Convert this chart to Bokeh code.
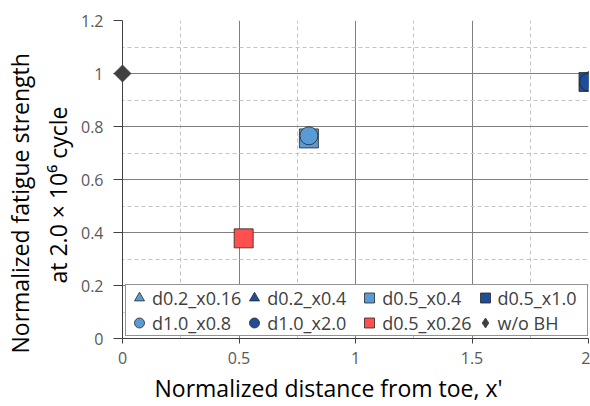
import math
from bokeh.plotting import figure
from bokeh.models import (Range1d, FixedTicker, CustomJSTickFormatter, Title, Span,
                          BoxAnnotation, Legend, LegendItem, ColumnDataSource)
from bokeh.embed import file_html
from bokeh.resources import INLINE

# data: x' = x/d, normalized fatigue strength
series_names = ["d0.2_x0.16", "d0.2_x0.4", "d0.5_x0.4", "d0.5_x1.0",
                "d1.0_x0.8", "d1.0_x2.0", "d0.5_x0.26", "w/o BH"]
series_x = [0.8, 2.0, 0.8, 2.0, 0.8, 2.0, 0.52, 0.0]
series_y = [0.76, 0.97, 0.755, 0.968, 0.765, 0.968, 0.378, 1.0]
markers = ["triangle", "triangle", "square", "square", "circle", "circle", "square", "square"]
legend_markers = ["triangle", "triangle", "square", "square", "circle", "circle", "square", "diamond"]
colors = ["#5b9bd5", "#1f4e96", "#5b9bd5", "#1f4e96", "#5b9bd5", "#1f4e96", "#ff5050", "#404040"]
sizes = [18, 18, 19, 19, 18, 18, 19, 12]
angles = [0, 0, 0, 0, 0, 0, 0, math.pi / 4]
x_ticks = [0, 0.5, 1, 1.5, 2]
y_ticks = [0, 0.2, 0.4, 0.6, 0.8, 1, 1.2]

FONT = "Open Sans"
W, H = 590, 406
LEFT, RIGHT, TOP, BOTTOM = 113, 2, 20, 68
PAD_PX = 9  # room left of x'=0 so the marker on the axis is not cut
x_scale = (W - LEFT - RIGHT - PAD_PX) / (x_ticks[-1] - x_ticks[0])
x_start = x_ticks[0] - PAD_PX / x_scale

p = figure(width=W, height=H, output_backend="svg", toolbar_location=None,
           x_range=Range1d(x_start, x_ticks[-1]), y_range=Range1d(y_ticks[0], y_ticks[-1]),
           min_border_left=LEFT, min_border_right=RIGHT, min_border_top=TOP,
           min_border_bottom=BOTTOM)
p.background_fill_color = "white"
p.border_fill_color = "white"
p.outline_line_color = None

def mids(t):
    return [(a + b) / 2 for a, b in zip(t[:-1], t[1:])]

p.xaxis.ticker = FixedTicker(ticks=x_ticks, minor_ticks=mids(x_ticks))
p.yaxis.ticker = FixedTicker(ticks=y_ticks, minor_ticks=mids(y_ticks))
fmt = "return tick.toFixed(1).replace(/\\.0$/, '');"
p.xaxis.formatter = CustomJSTickFormatter(code=fmt)
p.yaxis.formatter = CustomJSTickFormatter(code=fmt)
p.xaxis.bounds = (x_ticks[0], x_ticks[-1])

for ax in (p.xaxis[0], p.yaxis[0]):
    ax.axis_line_color = "#404040"
    ax.major_tick_line_color = "#404040"
    ax.minor_tick_out = 0
    ax.minor_tick_in = 0
    ax.major_label_text_font = FONT
    ax.major_label_text_font_size = "16px"
    ax.major_label_text_color = "#595959"
p.xaxis.major_tick_out = 5
p.xaxis.major_tick_in = 0
p.yaxis.axis_line_color = None
p.yaxis.major_tick_out = 0
p.yaxis.major_tick_in = PAD_PX
p.xaxis.major_label_standoff = 8
p.yaxis.major_label_standoff = 10

# axis titles (side titles so they can be offset like the original)
def side_title(text, offset, standoff):
    return Title(text=text, align="left", offset=offset, standoff=standoff,
                 text_font=FONT, text_font_size="23px", text_font_style="normal",
                 text_color="black")

p.add_layout(side_title("Normalized distance from toe, x'", 41, 6), "below")
p.add_layout(side_title("at 2.0 \u00d7 10\u2076 cycle", 55, 8), "left")
p.add_layout(side_title("Normalized fatigue strength", -15, 0), "left")

for g in (p.xgrid[0], p.ygrid[0]):
    g.grid_line_color = "#808080"
    g.grid_line_width = 1
    g.minor_grid_line_color = "#c4c4c4"
    g.minor_grid_line_dash = "4 3"
    g.minor_grid_line_width = 1

# hide grid lines in the padding strip, then draw the value axis line at x'=0
p.add_layout(BoxAnnotation(right=x_ticks[0], fill_color="white", fill_alpha=1,
                           line_color=None, level="underlay"))
p.add_layout(Span(location=x_ticks[0], dimension="height", line_color="#404040",
                  line_width=1, level="underlay"))

items = []
for name, x, y, m, lm, c, s, a in zip(series_names, series_x, series_y, markers,
                                      legend_markers, colors, sizes, angles):
    src = ColumnDataSource(dict(x=[x], y=[y]))
    lc = c if name == "w/o BH" else "#262626"
    r = p.scatter("x", "y", source=src, marker=m, size=s, angle=a, fill_color=c,
                  line_color=lc, line_width=0.8)
    if lm != m:
        # legend symbol (tiny, hidden under the plotted marker)
        r = p.scatter("x", "y", source=src, marker=lm, size=1, fill_color=c,
                      line_color=lc, line_width=0.8)
    items.append(LegendItem(label=name, renderers=[r]))

legend = Legend(items=items, orientation="horizontal", ncols=4,
                location=(12, 2), label_text_font=FONT,
                label_text_font_size="18px", label_text_color="#404040",
                border_line_color="#262626", border_line_width=1,
                background_fill_alpha=1, glyph_width=26, glyph_height=25,
                label_standoff=0, label_width=89, label_height=20,
                spacing=0, padding=0, margin=0)
p.add_layout(legend, "center")

open("out.html", "w").write(file_html(p, INLINE))
